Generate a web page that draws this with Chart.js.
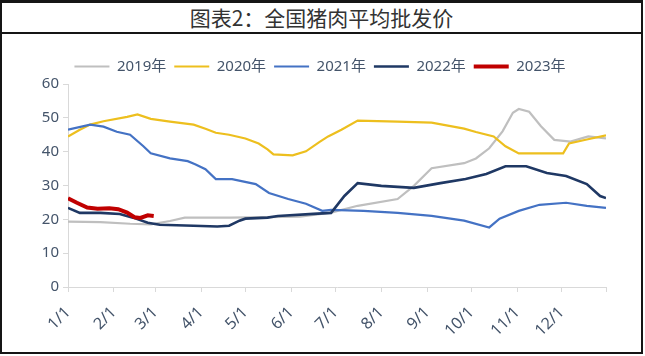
<!DOCTYPE html>
<html><head><meta charset="utf-8">
<script src="https://cdn.jsdelivr.net/npm/chart.js@4.4.0/dist/chart.umd.min.js"></script>
<style>
html,body{margin:0;padding:0;background:#fff;}
#frame{position:absolute;left:0;top:0;width:643px;height:354px;box-sizing:border-box;border:2px solid #151515;border-top-width:3px;background:#fff;}
#title{height:29px;border-bottom:2px solid #151515;text-align:center;font-family:"Noto Sans CJK SC";font-size:21px;line-height:29px;color:#333;}
#wrap{position:relative;width:639px;height:318px;}
</style></head><body>
<div id="frame"><div id="title">图表2：全国猪肉平均批发价</div><div id="wrap"><canvas id="c" width="639" height="318"></canvas></div></div>
<script>
// x = day of year (0 = 1/1)
const seriesNames = ['2019年','2020年','2021年','2022年','2023年'];
const tickDays = [0,31,59,90,120,151,181,212,243,273,304,334,364];
const tickLabels = ['1/1','2/1','3/1','4/1','5/1','6/1','7/1','8/1','9/1','10/1','11/1','12/1',''];

const days2019 = [0,22,42,56,69,79,110,157,178,196,223,234,246,268,276,285,294,301,305,312,320,329,340,352,364];
const vals2019 = [19.3,19.2,18.7,18.5,19.5,20.5,20.5,20.8,22,24,26,29.9,35.1,36.6,38,41,46,51.5,52.6,51.8,47.5,43.5,43,44.5,43.9];

const days2020 = [0,8,15,24,40,47,56,69,85,93,100,109,120,129,135,139,152,161,170,176,185,196,223,246,268,276,288,296,305,335,339,351,364];
const vals2020 = [44.5,46.5,48,49,50.3,51,49.7,48.9,48,46.8,45.6,45,43.9,42.4,40.7,39.2,38.9,40.1,42.8,44.5,46.5,49.2,48.9,48.6,46.8,45.8,44.5,41.6,39.5,39.5,42.4,43.6,44.8];

const days2021 = [0,15,24,33,42,51,56,69,81,86,93,100,111,127,136,149,161,172,178,200,223,246,268,285,292,305,319,337,351,364];
const vals2021 = [46.5,48,47.4,45.9,45,41.6,39.5,38,37.2,36.3,34.8,31.9,31.9,30.4,27.8,26,24.6,22.5,22.8,22.5,21.9,21,19.6,17.6,20.2,22.5,24.3,24.9,24,23.4];

const days2022 = [0,8,22,35,44,54,62,85,101,109,116,120,135,142,166,178,187,196,212,234,252,269,283,296,310,324,337,351,360,364];
const vals2022 = [23.4,21.9,21.9,21.6,20.5,19,18.4,18.1,17.9,18.1,19.6,20.2,20.5,21,21.6,21.9,26.9,30.7,29.9,29.3,30.7,31.9,33.4,35.7,35.7,33.7,32.8,30.4,26.9,26.3];

const days2023 = [0,6,13,20,28,34,40,45,49,54,58];
const vals2023 = [26.2,24.9,23.5,23.1,23.3,23,22,20.6,20.4,21.2,21];

const colors = ['#BFBFBF','#EDBF1E','#4472C4','#1F3864','#C00000'];
const widths = [2.2,2.2,2.2,2.6,4];

function pts(d,v){ return d.map((x,i)=>({x:x,y:v[i]})); }
const allDays = [days2019,days2020,days2021,days2022,days2023];
const allVals = [vals2019,vals2020,vals2021,vals2022,vals2023];

const datasets = seriesNames.map((n,i)=>({
  label:n,
  data:pts(allDays[i],allVals[i]),
  borderColor:colors[i],
  backgroundColor:colors[i],
  borderWidth:widths[i],
  pointRadius:0,
  tension:0,
  order:5-i
}));

const fontFam = '"Noto Sans","Noto Sans CJK SC",sans-serif';
new Chart(document.getElementById('c'),{
  type:'line',
  data:{datasets:datasets},
  options:{
    responsive:false,
    animation:false,
    layout:{padding:{top:17,left:32,right:35,bottom:0}},
    plugins:{
      legend:{
        position:'top',
        labels:{
          usePointStyle:true,pointStyle:'line',pointStyleWidth:35,boxHeight:15,
          padding:8,color:'#44546A',font:{family:fontFam,size:15},
          sort:(a,b)=>a.datasetIndex-b.datasetIndex
        }
      },
      tooltip:{enabled:false}
    },
    scales:{
      x:{
        type:'linear',min:0,max:364,
        afterBuildTicks:(s)=>{ s.ticks = tickDays.map(v=>({value:v})); },
        afterFit:(s)=>{ s.height = 65; },
        grid:{drawOnChartArea:false,tickLength:5,color:'#D9D9D9'},
        border:{color:'#D9D9D9'},
        ticks:{autoSkip:false,minRotation:45,maxRotation:45,padding:11,color:'#44546A',
          font:{family:fontFam,size:16},
          callback:(v)=>{ const k = tickDays.indexOf(v); return k>=0 ? tickLabels[k] : ''; }}
      },
      y:{
        min:0,max:60,
        afterFit:(s)=>{ s.width = 34; },
        grid:{drawOnChartArea:false,tickLength:5,color:'#D9D9D9'},
        border:{color:'#D9D9D9'},
        ticks:{stepSize:10,padding:4,color:'#44546A',font:{family:fontFam,size:15}}
      }
    }
  }
});
</script>
</body></html>
